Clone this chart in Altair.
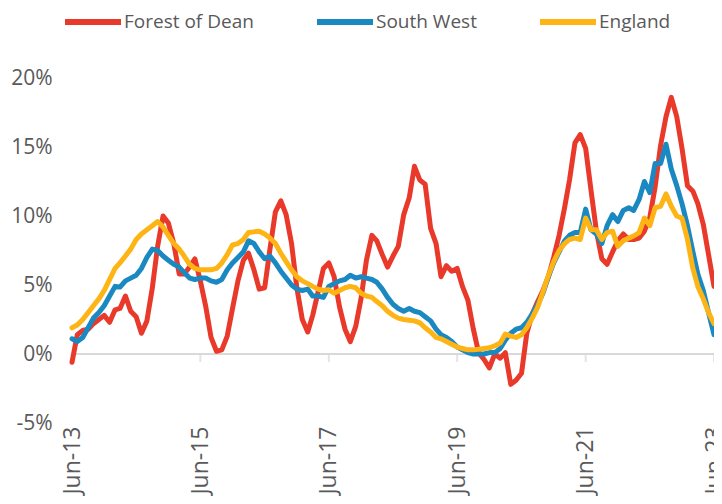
import altair as alt
import pandas as pd

series_names = ["Forest of Dean", "South West", "England"]
series_colors = ["#E8392A", "#1A89C2", "#FDB414"]

forest_of_dean = [
    -0.6, 1.4, 1.7, 1.8, 2.2, 2.5, 2.8, 2.3, 3.2, 3.3,
    4.2, 3.1, 2.7, 1.5, 2.4, 4.8, 7.8, 10.0, 9.5, 8.0,
    5.8, 5.8, 6.3, 6.9, 5.3, 3.5, 1.2, 0.2, 0.3, 1.3,
    3.3, 5.3, 6.8, 7.3, 6.1, 4.7, 4.8, 7.6, 10.3, 11.1,
    10.1, 8.0, 4.8, 2.5, 1.6, 2.8, 4.5, 6.2, 6.6, 5.6,
    3.4, 1.8, 0.9, 2.0, 4.0, 6.8, 8.6, 8.2, 7.2, 6.3,
    7.1, 7.8, 10.1, 11.3, 13.6, 12.6, 12.3, 9.1, 8.0, 5.6,
    6.4, 6.0, 6.2, 4.9, 3.9, 1.8, 0.1, -0.4, -1.0, 0.0,
    -0.3, 0.1, -2.2, -1.9, -1.4, 1.5, 2.9, 3.8, 4.6, 5.6,
    7.0, 8.6, 10.6, 12.6, 15.3, 15.9, 14.9, 11.9, 8.9, 6.9,
    6.5, 7.4, 8.2, 8.7, 8.3, 8.3, 8.4, 8.9, 9.9, 12.1,
    15.1, 17.2, 18.6, 17.2, 14.9, 12.2, 11.8, 10.9, 9.4, 7.2,
    4.9,
]

south_west = [
    1.1, 0.9, 1.2, 1.9, 2.6, 3.0, 3.5, 4.2, 4.9, 4.85,
    5.3, 5.5, 5.7, 6.2, 7.0, 7.6, 7.5, 7.1, 6.8, 6.5,
    6.3, 5.9, 5.5, 5.4, 5.5, 5.5, 5.3, 5.2, 5.4, 6.1,
    6.6, 7.0, 7.4, 8.2, 8.0, 7.4, 6.9, 7.1, 6.6, 6.0,
    5.5, 5.0, 4.7, 4.6, 4.7, 4.2, 4.2, 4.1, 4.9, 5.1,
    5.3, 5.4, 5.7, 5.5, 5.6, 5.5, 5.4, 5.2, 4.7, 4.1,
    3.6, 3.3, 3.1, 3.3, 3.1, 3.0, 2.7, 2.4, 1.8, 1.4,
    1.2, 0.9, 0.5, 0.3, 0.1, 0.0, 0.0, 0.0, 0.1, 0.1,
    0.4, 1.0, 1.5, 1.8, 1.9, 2.3, 2.9, 3.6, 4.4, 5.6,
    6.6, 7.4, 8.2, 8.6, 8.8, 8.8, 10.5, 9.0, 8.7, 8.0,
    9.3, 10.1, 9.6, 10.4, 10.6, 10.4, 11.2, 12.5, 11.7, 13.8,
    13.8, 15.2, 13.4, 12.2, 10.9, 9.3, 7.4, 5.8, 4.6, 3.0,
    1.4,
]

england = [
    1.9, 2.1, 2.5, 3.0, 3.5, 4.0, 4.6, 5.4, 6.2, 6.6,
    7.1, 7.6, 8.3, 8.7, 9.0, 9.3, 9.6, 9.2, 8.6, 8.0,
    7.6, 7.1, 6.5, 6.2, 6.1, 6.1, 6.1, 6.2, 6.6, 7.2,
    7.9, 8.0, 8.3, 8.8, 8.85, 8.9, 8.7, 8.4, 8.0, 7.3,
    6.7, 6.1, 5.6, 5.3, 5.1, 4.9, 4.7, 4.6, 4.65, 4.4,
    4.6, 4.8, 4.9, 4.8, 4.4, 4.2, 4.1, 3.8, 3.5, 3.1,
    2.8, 2.6, 2.5, 2.45, 2.4, 2.25, 1.9, 1.6, 1.2, 1.1,
    0.9, 0.7, 0.5, 0.4, 0.3, 0.3, 0.35, 0.4, 0.45, 0.6,
    0.8, 1.45, 1.3, 1.2, 1.4, 1.9, 2.6, 3.4, 4.5, 5.7,
    6.7, 7.5, 8.0, 8.3, 8.4, 8.3, 9.85, 9.0, 9.0, 8.3,
    8.8, 8.9, 7.8, 8.2, 8.4, 8.55, 8.8, 9.85, 9.3, 10.6,
    10.7, 11.6, 10.7, 10.0, 9.85, 8.3, 6.2, 4.9, 4.0, 3.0,
    2.2,
]

tick_years = [2013, 2015, 2017, 2019, 2021, 2023]
y_ticks = [-5, 0, 5, 10, 15, 20]

months = pd.date_range(start="2013-06-01", periods=len(forest_of_dean), freq="MS")
months_str = [d.strftime("%Y-%m-%d") for d in months]

text_color = "#595959"
font = "Open Sans"

x_scale = alt.Scale(domain=[alt.DateTime(year=2013, month=6, date=1),
                            alt.DateTime(year=2023, month=6, date=1)])
y_scale = alt.Scale(domain=[-5, 20], nice=False, zero=False)
color_scale = alt.Scale(domain=series_names, range=series_colors)

x_axis = alt.Axis(
    values=[alt.DateTime(year=y, month=6, date=1) for y in tick_years],
    format="%b-%y", labelAngle=-90, labelAlign="right", labelBaseline="middle",
    labelPadding=3, domain=False, ticks=False, grid=False, title=None,
    labelFontSize=23, labelColor=text_color, labelFont=font,
)
y_axis = alt.Axis(
    values=y_ticks, labelExpr="datum.value + '%'", domain=False, ticks=False,
    grid=False, title=None, labelFontSize=21, labelColor=text_color,
    labelFont=font, labelPadding=20,
)
legend = alt.Legend(
    title=None, orient="none", direction="horizontal",
    legendX=-10, legendY=-87, symbolType="stroke",
    symbolSize=3136, symbolStrokeWidth=6,
    labelFontSize=19, labelColor=text_color,
    labelFont=font, labelOffset=0, columnPadding=51,
)

zero_df = pd.DataFrame({"v": [0]})
zero_rule = alt.Chart(zero_df).mark_rule(color="#D9D9D9", strokeWidth=2).encode(
    y=alt.Y("v:Q", scale=y_scale, axis=y_axis)
)

tick_df = pd.DataFrame({"date": [f"{y}-06-01" for y in tick_years], "v": [0] * len(tick_years)})
tick_marks = alt.Chart(tick_df).mark_tick(
    orient="vertical", color="#D9D9D9", size=8, thickness=2, yOffset=4
).encode(
    x=alt.X("date:T", scale=x_scale, axis=x_axis),
    y=alt.Y("v:Q", scale=y_scale),
)

layers = [zero_rule, tick_marks]
for name, values in zip(series_names, [forest_of_dean, south_west, england]):
    df = pd.DataFrame({"date": months_str, "value": values, "series": name})
    layers.append(
        alt.Chart(df).mark_line(strokeWidth=5, strokeJoin="round", strokeCap="round").encode(
            x=alt.X("date:T", scale=x_scale, axis=x_axis),
            y=alt.Y("value:Q", scale=y_scale, axis=y_axis),
            color=alt.Color("series:N", scale=color_scale, legend=legend),
        )
    )

chart = alt.layer(*layers).properties(
    width=642, height=345,
    padding={"left": 64, "top": 70, "right": 0, "bottom": 73},
    autosize=alt.AutoSizeParams(type="none"),
).configure_view(stroke=None)

chart.save("out.html", embed_options={"renderer": "svg", "actions": False})
